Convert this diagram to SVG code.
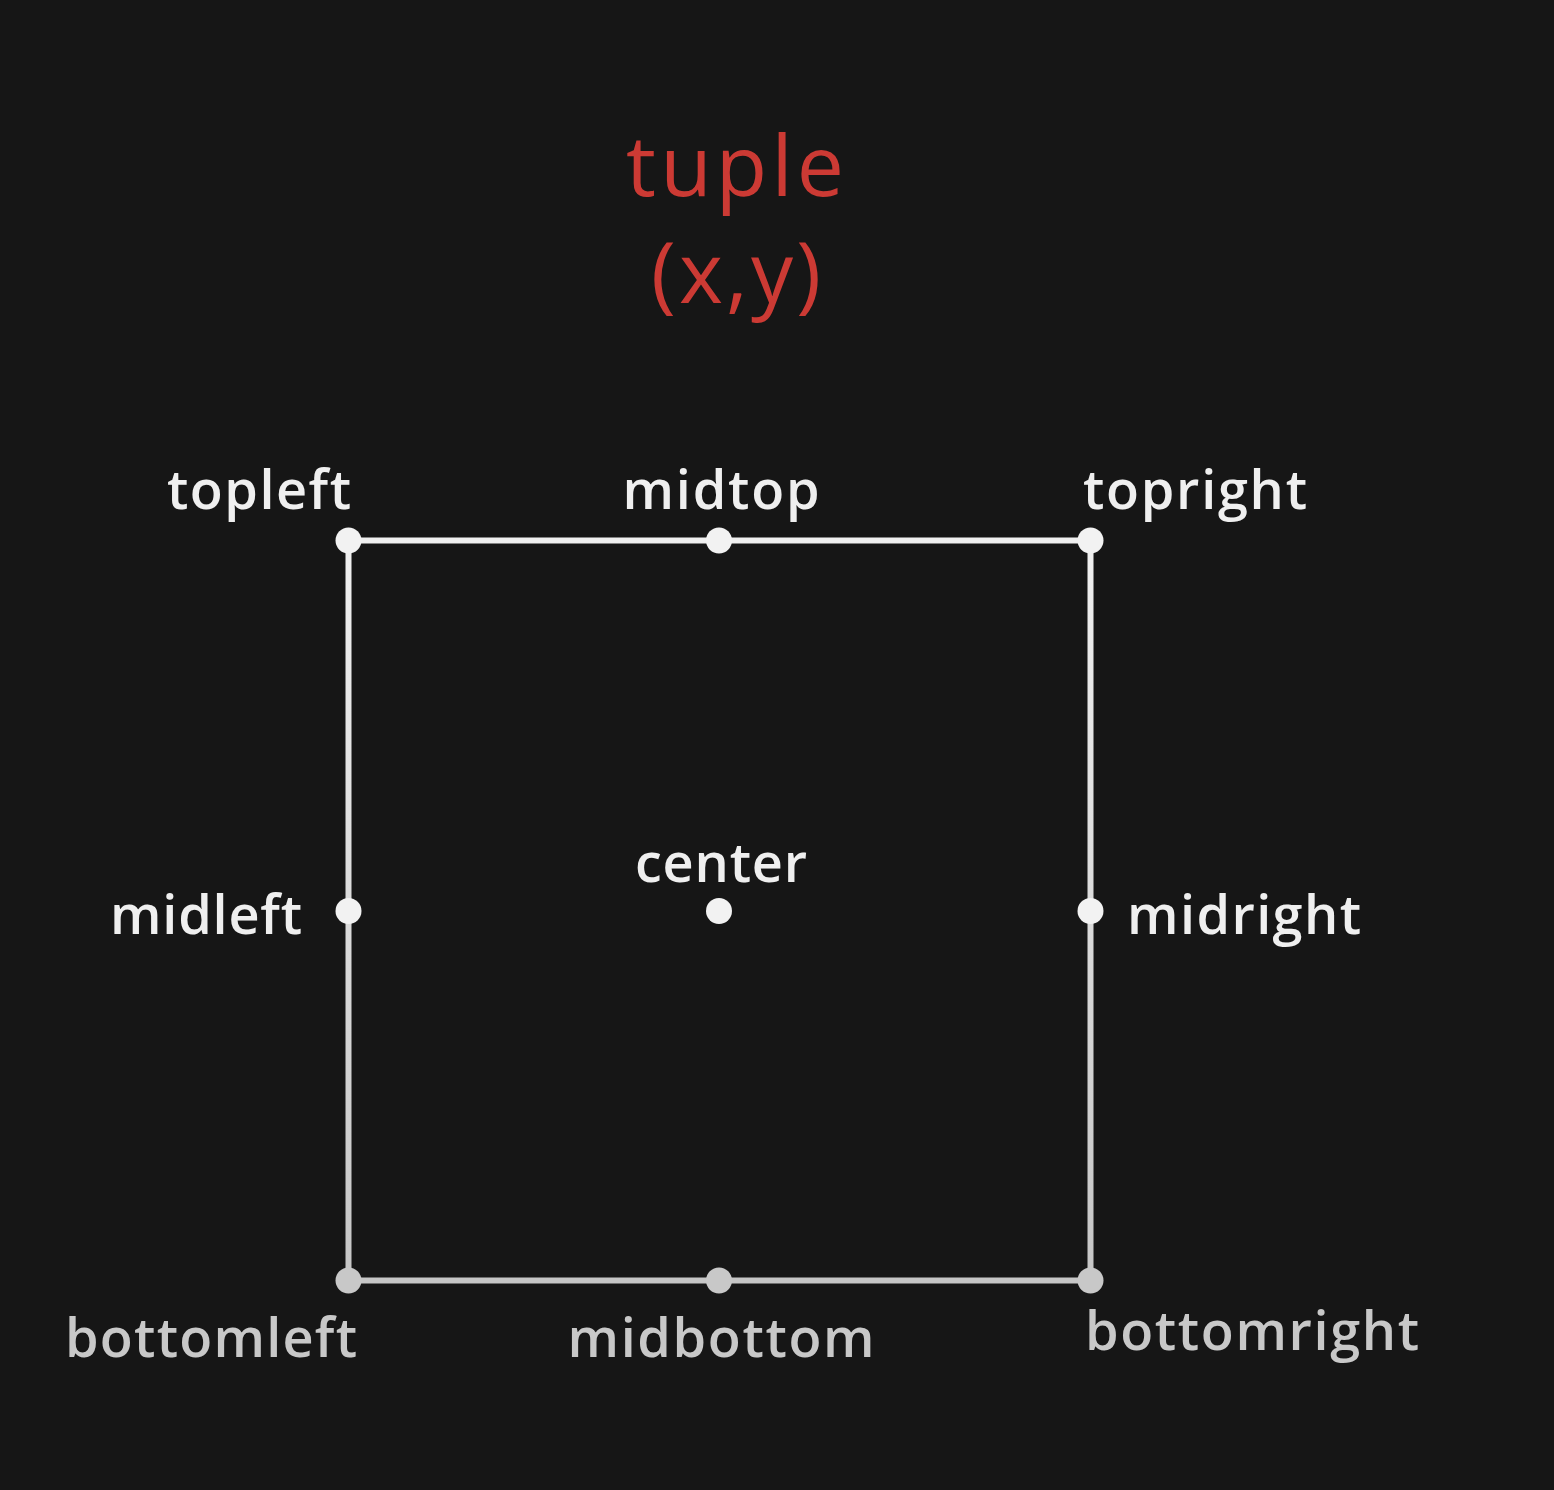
<svg xmlns="http://www.w3.org/2000/svg" width="1554" height="1490" viewBox="0 0 1554 1490">
<defs>
<linearGradient id="g" gradientUnits="userSpaceOnUse" x1="0" y1="540" x2="0" y2="1281">
<stop offset="0" stop-color="#f0f0f0"/><stop offset="1" stop-color="#c6c6c6"/>
</linearGradient>
<style>
.lbl{font-family:"Open Sans","Noto Sans",sans-serif;font-size:54px;font-weight:600;text-anchor:middle}
.t{fill:#efefef}.b{fill:#c8c8c8}
.title{font-family:"Open Sans","Noto Sans",sans-serif;font-size:84px;font-weight:500;fill:#cc3a34;text-anchor:middle}
.dt{fill:#f2f2f2}.db{fill:#c8c8c8}
</style>
</defs>
<rect width="1554" height="1490" fill="#161616"/>
<g id="title">
<text class="title" x="735" y="196" textLength="218">tuple</text>
<text class="title" x="736" y="303" textLength="170">(x,y)</text>
</g>
<g id="connectors">
<rect x="348.5" y="540.5" width="742" height="740" fill="none" stroke="url(#g)" stroke-width="6"/>
</g>
<g id="topleft"><circle class="dt" cx="348.5" cy="540.5" r="13"/><text class="lbl t" x="259" y="509" textLength="184">topleft</text></g>
<g id="midtop"><circle class="dt" cx="719" cy="540.5" r="13"/><text class="lbl t" x="721" y="509" textLength="197">midtop</text></g>
<g id="topright"><circle class="dt" cx="1090.5" cy="540.5" r="13"/><text class="lbl t" x="1195" y="509" textLength="224">topright</text></g>
<g id="midleft"><circle class="dt" cx="348.5" cy="911" r="13"/><text class="lbl t" x="206" y="934" textLength="192">midleft</text></g>
<g id="center"><circle class="dt" cx="719" cy="911" r="13"/><text class="lbl t" x="721" y="882" textLength="172">center</text></g>
<g id="midright"><circle class="dt" cx="1090.5" cy="911" r="13"/><text class="lbl t" x="1244" y="934" textLength="234">midright</text></g>
<g id="bottomleft"><circle class="db" cx="348.5" cy="1280.5" r="13"/><text class="lbl b" x="211" y="1357" textLength="292">bottomleft</text></g>
<g id="midbottom"><circle class="db" cx="719" cy="1280.5" r="13"/><text class="lbl b" x="721" y="1357" textLength="307">midbottom</text></g>
<g id="bottomright"><circle class="db" cx="1090.5" cy="1280.5" r="13"/><text class="lbl b" x="1252" y="1350" textLength="334">bottomright</text></g>
</svg>
